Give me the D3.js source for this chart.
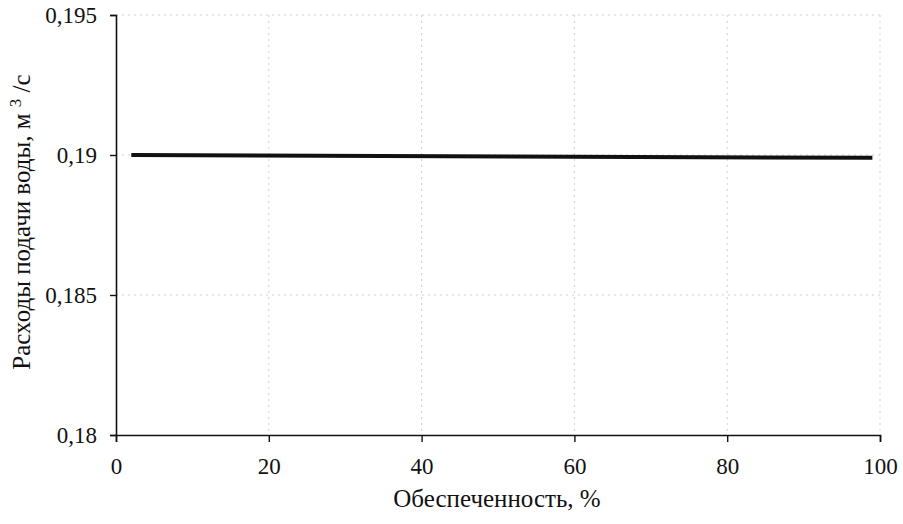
<html>
<head>
    <meta charset="utf-8">
    <script src="https://d3js.org/d3.v7.min.js"></script>
    <style>
      body { margin: 0; background: #fff; }
      text { font-family: "Liberation Serif", "DejaVu Serif", serif; fill: #111; }
    </style>
</head>
<body>
<div id="my_dataviz"></div>
<script>
    // data
    const supply = [2, 99];            // обеспеченность, %
    const flow = [0.19, 0.1899];       // расход, м3/с
    const xTicks = [0, 20, 40, 60, 80, 100];
    const yTicks = [0.18, 0.185, 0.19, 0.195];
    const xGrid = [20, 40, 60, 80, 100];
    const yGrid = [0.185, 0.19, 0.195];

    let margin = {top: 15, right: 23, bottom: 89, left: 116},
      width = 903 - margin.left - margin.right,
      height = 524 - margin.top - margin.bottom;

    const svg = d3.select("#my_dataviz")
      .append("svg")
        .attr("width", width + margin.left + margin.right)
        .attr("height", height + margin.top + margin.bottom)
      .append("g")
        .attr("transform", `translate(${margin.left}, ${margin.top})`);

    const x = d3.scaleLinear().domain([0, 100]).range([0, width]);
    const y = d3.scaleLinear().domain([0.18, 0.195]).range([height, 0]);

    const fmt = d => d3.format("")(d).replace(".", ",");

    // faint dotted grid
    svg.append("g").selectAll("line")
      .data(xGrid)
      .join("line")
        .attr("x1", d => x(d)).attr("x2", d => x(d))
        .attr("y1", 0).attr("y2", height)
        .style("stroke", "#cfcfcf")
        .style("stroke-width", 1)
        .style("stroke-dasharray", "2,4");
    svg.append("g").selectAll("line")
      .data(yGrid)
      .join("line")
        .attr("x1", 0).attr("x2", width)
        .attr("y1", d => y(d)).attr("y2", d => y(d))
        .style("stroke", "#cfcfcf")
        .style("stroke-width", 1)
        .style("stroke-dasharray", "2,4");

    // axes
    const xAxis = svg.append("g")
      .attr("transform", `translate(0, ${height})`)
      .call(d3.axisBottom(x).tickValues(xTicks).tickFormat(d => d).tickSize(7).tickPadding(16));
    const yAxis = svg.append("g")
      .call(d3.axisLeft(y).tickValues(yTicks).tickFormat(fmt).tickSize(6).tickPadding(13));
    [xAxis, yAxis].forEach(a => {
      a.attr("font-family", null);
      a.select(".domain").style("stroke", "#111").style("stroke-width", 1.6);
      a.selectAll(".tick line").style("stroke", "#111").style("stroke-width", 1.4);
      a.selectAll("text")
        .style("font-family", "'Liberation Serif', serif")
        .style("font-size", "23px")
        .style("fill", "#111");
    });

    // the line
    svg.append("path")
      .datum(supply.map((s, i) => [s, flow[i]]))
      .attr("fill", "none")
      .attr("stroke", "#111")
      .attr("stroke-width", 4)
      .attr("d", d3.line().x(d => x(d[0])).y(d => y(d[1])));

    // axis titles
    svg.append("text")
      .attr("x", 497 - margin.left)
      .attr("y", 507 - margin.top)
      .attr("text-anchor", "middle")
      .style("font-size", "25px")
      .text("Обеспеченность, %");

    const yl = svg.append("text")
      .attr("transform", `translate(${30 - margin.left}, ${222 - margin.top}) rotate(-90)`)
      .attr("text-anchor", "middle")
      .style("font-size", "25px");
    yl.append("tspan").text("Расходы подачи воды, м ");
    yl.append("tspan").attr("dy", -9).style("font-size", "17px").text("3");
    yl.append("tspan").attr("dy", 9).text(" /с");
</script>
</body>
</html>
